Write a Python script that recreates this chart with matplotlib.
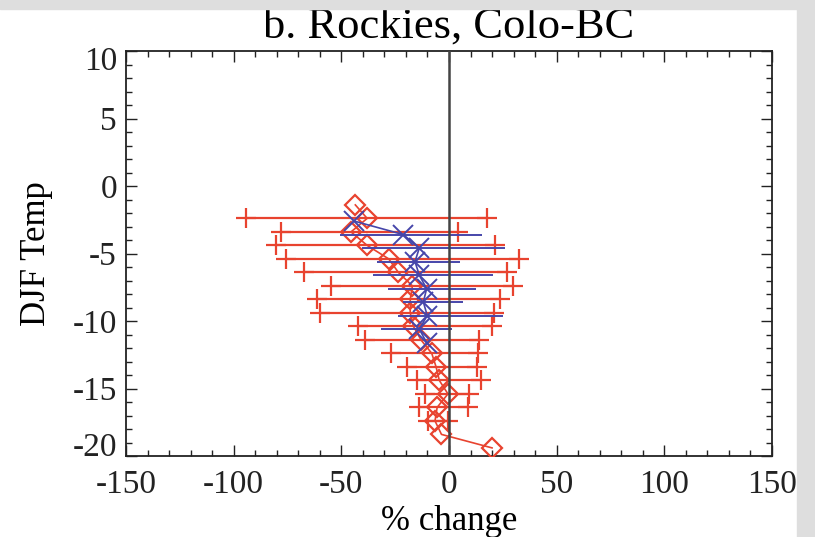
import numpy as np
import matplotlib.pyplot as plt
from matplotlib.patches import Rectangle
from matplotlib.ticker import MultipleLocator
import matplotlib.transforms as mtransforms

# red: DJF temperature bins, mean % change (diamonds)
red_temp = [-1.4, -2.4, -3.4, -4.4, -5.4, -6.4, -7.4, -8.4, -9.4, -10.4,
            -11.4, -12.4, -13.4, -14.4, -15.4, -16.4, -17.4, -18.4, -19.4]
red_mean = [-43.5, -38, -45.5, -38, -28, -23.5, -17, -18, -18, -16.5,
            -13, -8, -6, -4.5, -0.5, -5.5, -6.5, -3.5, 20]
# red spread bars (bins 2..17 only)
red_bar_temp = red_temp[1:17]
red_lo = [-94.4, -78.2, -80.4, -75.9, -67.3, -54.8, -61.5, -59.9,
          -42.1, -39, -26.9, -19.4, -15, -11.1, -13.8, -9.9]
red_hi = [17.5, 4.0, 21.4, 32.5, 26.8, 29.6, 23.7, 20.9,
          20.0, 14.1, 13.6, 13.1, 14.7, 9.4, 8.7, -0.5]

# blue series (X markers)
blue_temp = [-2.6, -3.6, -4.6, -5.6, -6.6, -7.6, -8.6, -9.6, -10.6, -11.6]
blue_mean = [-44, -21.2, -13.8, -15.8, -13.8, -10.4, -11.9, -10.1, -13.8, -10.4]
blue_bar_temp = blue_temp[1:9]
blue_lo = [-50.6, -40.5, -33.6, -35.2, -28.2, -21.5, -23.8, -31.6]
blue_hi = [15.2, 26, 5.1, 20.6, 12.5, 6.6, 25.2, 1.5]

yticks = [-20, -15, -10, -5, 0, 5, 10]

red = '#e8432f'
blue = '#4646aa'

plt.rcParams['font.family'] = ['Liberation Serif', 'DejaVu Serif']
plt.rcParams['axes.unicode_minus'] = False

fig = plt.figure(figsize=(8.15, 5.37), dpi=100)
ax = fig.add_axes([126/815, 81/537, 646/815, 405/537])

# gray border strips like the screenshot
fig.patches.append(Rectangle((0, 1 - 9/537), 1, 9/537, transform=fig.transFigure,
                             color='#dedede', zorder=0))
fig.patches.append(Rectangle((797/815, 0), 18/815, 1, transform=fig.transFigure,
                             color='#dedede', zorder=0))

# red spread bars with + at the ends
ax.hlines(red_bar_temp, red_lo, red_hi, color=red, lw=1.6, zorder=2)
ax.plot(red_lo, red_bar_temp, ls='none', marker='+', ms=15, mew=1.6, color=red, zorder=2)
ax.plot(red_hi, red_bar_temp, ls='none', marker='+', ms=15, mew=1.6, color=red, zorder=2)
ax.plot(red_mean, red_temp, color=red, lw=1.2, marker='D', ms=10,
        mfc='none', mec=red, mew=1.6, zorder=3)

# blue bars and means
ax.hlines(blue_bar_temp, blue_lo, blue_hi, color=blue, lw=1.4, zorder=4)
ax.plot(blue_mean, blue_temp, color=blue, lw=1.2, marker='x', ms=15,
        mew=1.4, zorder=5)

ax.axvline(0, color='#444444', lw=1.8, zorder=6)

ax.xaxis.set_major_locator(MultipleLocator(50))
ax.xaxis.set_minor_locator(MultipleLocator(10))
ax.set_yticks(yticks)
ax.yaxis.set_minor_locator(MultipleLocator(1))
ax.set_xlim(-150, 150)
ax.set_ylim(-20, 10)
ax.tick_params(which='both', direction='in', top=True, right=True,
               labelsize=24, width=1, colors='#222222')
ax.tick_params(which='major', length=8)
ax.tick_params(axis='x', which='major', pad=10)
ax.tick_params(axis='y', labelleft=False)
ax.tick_params(which='minor', length=4)
for s in ax.spines.values():
    s.set_linewidth(1.3)
    s.set_color('#222222')

# y labels drawn by hand so the end ones sit inside the axis span
trans = mtransforms.blended_transform_factory(ax.transAxes, ax.transData)
for v in yticks:
    va, dy = 'center_baseline', 0
    if v == yticks[0]:
        va = 'baseline'
    elif v == yticks[-1]:
        va, dy = 'baseline', -13.5
    t = trans + mtransforms.ScaledTranslation(0, dy / 72, fig.dpi_scale_trans)
    ax.text(-0.014, v, str(v), transform=t, ha='right', va=va,
            fontsize=24, color='#222222')

ax.set_title('b. Rockies, Colo-BC', fontsize=32, pad=10)
ax.set_xlabel('% change', fontsize=25, labelpad=3)
ax.set_ylabel('DJF Temp', fontsize=25, labelpad=49)

fig.savefig('out.png', dpi=100)
